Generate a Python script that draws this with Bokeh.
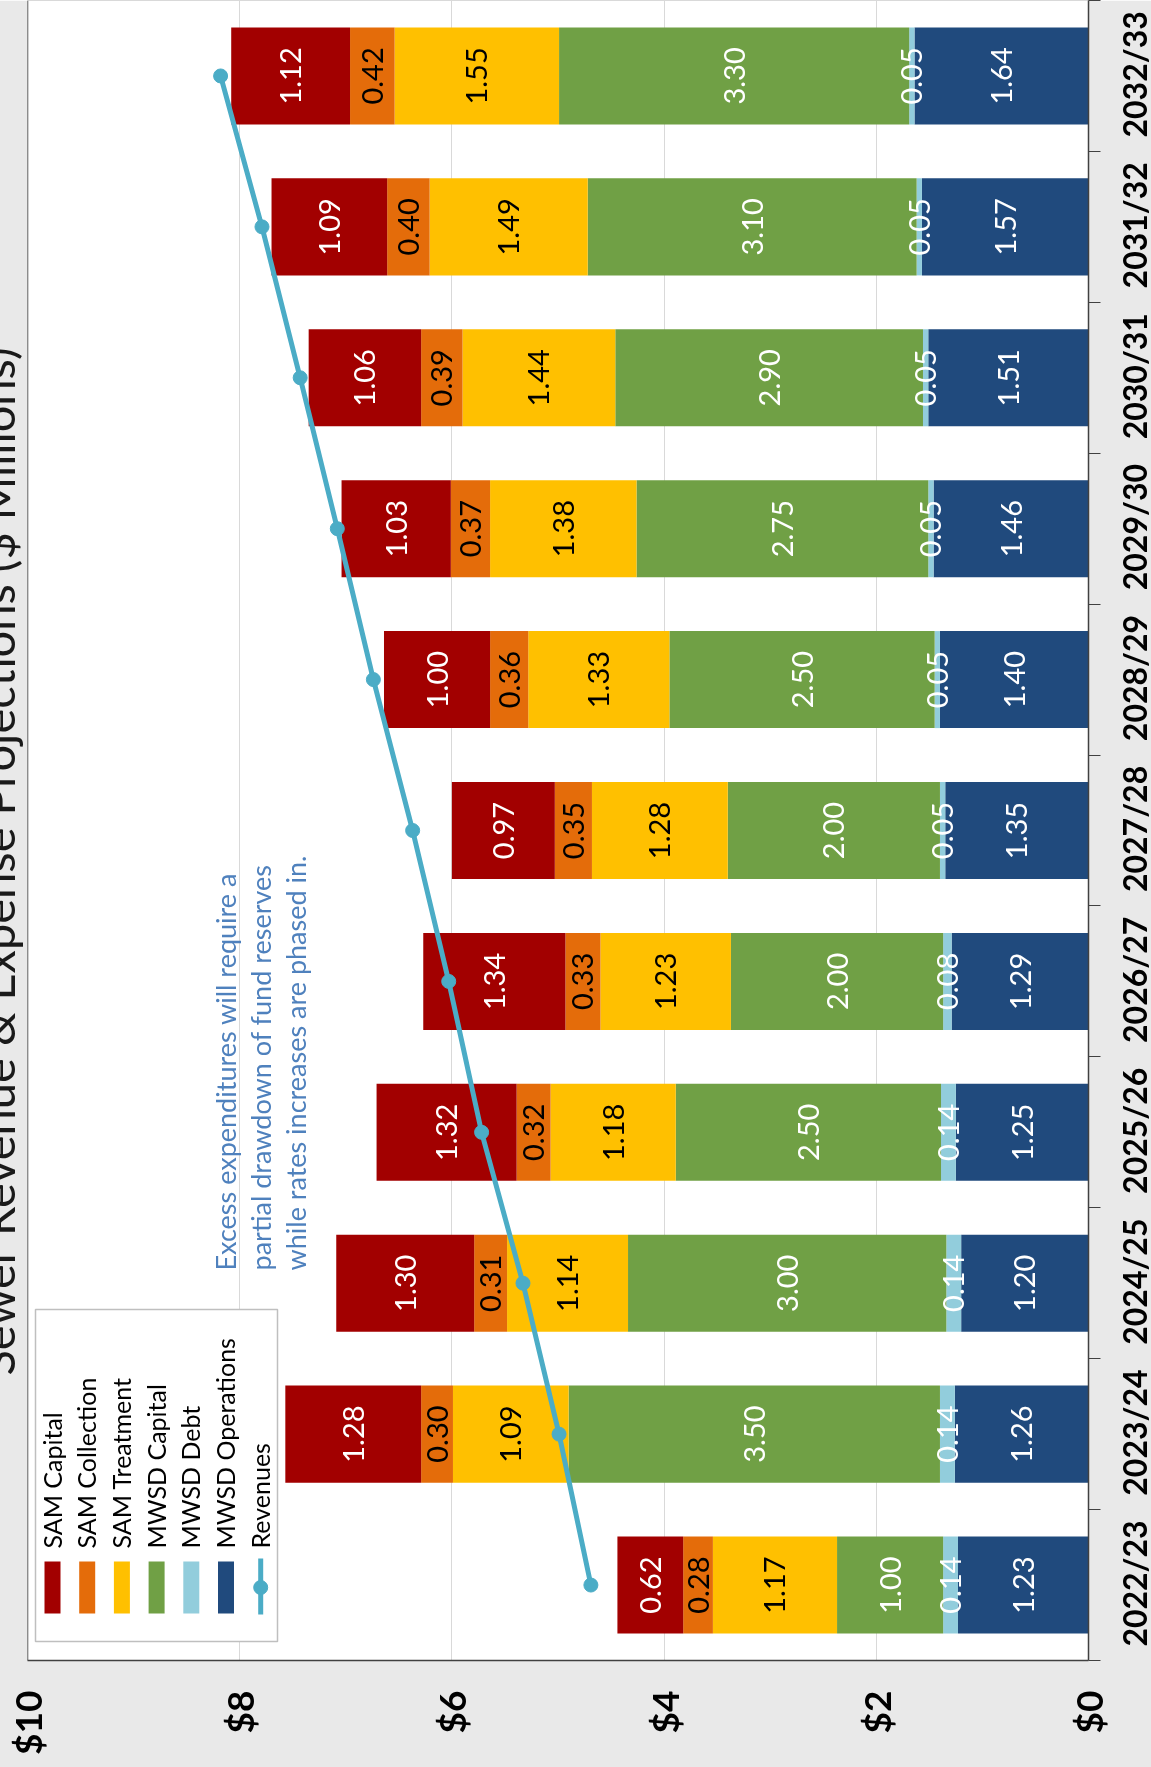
import math
import numpy as np
import pandas as pd
from bokeh.plotting import figure
from bokeh.models import Range1d, FixedTicker, NumeralTickFormatter, ColumnDataSource, Span
from bokeh.core.properties import value
from bokeh.embed import file_html
from bokeh.resources import INLINE

# ---------------- data ----------------
years = ["2022/23", "2023/24", "2024/25", "2025/26", "2026/27", "2027/28",
         "2028/29", "2029/30", "2030/31", "2031/32", "2032/33"]
mwsd_operations = [1.23, 1.26, 1.20, 1.25, 1.29, 1.35, 1.40, 1.46, 1.51, 1.57, 1.64]
mwsd_debt = [0.14, 0.14, 0.14, 0.14, 0.08, 0.05, 0.05, 0.05, 0.05, 0.05, 0.05]
mwsd_capital = [1.00, 3.50, 3.00, 2.50, 2.00, 2.00, 2.50, 2.75, 2.90, 3.10, 3.30]
sam_treatment = [1.17, 1.09, 1.14, 1.18, 1.23, 1.28, 1.33, 1.38, 1.44, 1.49, 1.55]
sam_collection = [0.28, 0.30, 0.31, 0.32, 0.33, 0.35, 0.36, 0.37, 0.39, 0.40, 0.42]
sam_capital = [0.62, 1.28, 1.30, 1.32, 1.34, 0.97, 1.00, 1.03, 1.06, 1.09, 1.12]
revenues = [4.69, 4.99, 5.33, 5.72, 6.03, 6.37, 6.74, 7.08, 7.43, 7.79, 8.18]
value_ticks = [0, 2, 4, 6, 8, 10]

series_names = ["MWSD Operations", "MWSD Debt", "MWSD Capital",
                "SAM Treatment", "SAM Collection", "SAM Capital"]
series_values = [mwsd_operations, mwsd_debt, mwsd_capital,
                 sam_treatment, sam_collection, sam_capital]
series_colors = ["#204A7D", "#92CDDC", "#70A045", "#FFC000", "#E46C0A", "#A20000"]
label_colors = ["white", "white", "white", "black", "black", "white"]
legend_order = ["SAM Capital", "SAM Collection", "SAM Treatment",
                "MWSD Capital", "MWSD Debt", "MWSD Operations"]
title_text = "Sewer Revenue & Expense Projections ($ Millions)"
note_lines = ["Excess expenditures will require a",
              "partial drawdown of fund reserves",
              "while rates increases are phased in."]

FONT = "Lato"
# ---------------- layout ----------------
S = 40                       # title band partly off the page's left edge (as in the reference)
R = 40                       # spare room right of the page edge for the axis panel
PAGE_W = 1151
W, H = PAGE_W + S + R, 1767
PL, PR, PT, PB = 27, 1088, 0, 1660    # frame on the page
XMAX = 10
NCAT = len(years)
K = 1000                     # category step in y units
LABEL_SHIFT = 408            # rotated axis labels start at their tick: shift so they centre


def dx(px):
    return XMAX * (PR - px) / (PR - PL)


def dy(py):
    return K * (NCAT * (PB - py) / (PB - PT) - 0.5)


def dw(px):
    return XMAX * px / (PR - PL)


def dh(px):
    return K * NCAT * px / (PB - PT)


p = figure(width=W, height=H, output_backend="svg", toolbar_location=None,
           x_range=Range1d(XMAX, 0), y_range=Range1d(-K / 2, K * (NCAT - 0.5)),
           y_axis_location="right", title=title_text, title_location="left",
           min_border_left=PL + S, min_border_right=PAGE_W - PR + R,
           min_border_top=PT, min_border_bottom=H - PB)
p.styles = {"position": "fixed", "left": f"-{S}px", "top": "0px"}
p.background_fill_color = "white"
p.border_fill_color = "#E9E9E9"
p.outline_line_color = "#D9D9D9"

p.title.align = "left"
p.title.offset = PB - 1375
p.title.text_font = FONT
p.title.text_font_style = "normal"
p.title.text_font_size = "47px"
p.title.text_color = "#1A1A1A"
p.title.standoff = 5

ypos = [K * i for i in range(NCAT)]
data = {"y": ypos}
for n, v in zip(series_names, series_values):
    data[n] = v
source = ColumnDataSource(data)

p.hbar_stack(series_names, y="y", height=0.643 * K, color=series_colors,
             line_color=None, source=source)

# value labels
df = pd.DataFrame(data)
cum = np.zeros(NCAT)
for n, col in zip(series_names, label_colors):
    vals = df[n].to_numpy()
    mid = cum + vals / 2
    cum = cum + vals
    p.text(x=list(mid), y=ypos, text=[f"{v:.2f}" for v in vals], angle=math.pi / 2,
           text_align="center", text_baseline="middle", text_color=col,
           text_font=value(FONT), text_font_size="29px")

# revenue line
p.line(revenues, ypos, line_color="#4BACC6", line_width=5)
p.scatter(revenues, ypos, size=14, fill_color="#4BACC6", line_color="#4BACC6")

# value axis (bottom)
p.xaxis.ticker = FixedTicker(ticks=value_ticks)
p.xaxis.formatter = NumeralTickFormatter(format="$0")
p.xaxis.major_label_orientation = math.pi / 2
p.xaxis.major_label_text_font = FONT
p.xaxis.major_label_text_font_style = "bold"
p.xaxis.major_label_text_font_size = "37px"
p.xaxis.major_label_text_color = "black"
p.xaxis.major_tick_out = 0
p.xaxis.major_tick_in = 0
p.xaxis.minor_tick_out = 0
p.xaxis.minor_tick_in = 0
p.xaxis.axis_line_color = "#404040"
p.xaxis.axis_line_width = 1.5
p.xaxis.major_label_standoff = 30

# category axis (right): boundary ticks, rotated labels
label_ticks = [y - LABEL_SHIFT for y in ypos]
p.yaxis.ticker = FixedTicker(ticks=label_ticks,
                             minor_ticks=[K * i - K // 2 for i in range(NCAT + 1)])
p.yaxis.major_label_overrides = {t: yr for t, yr in zip(label_ticks, years)}
p.yaxis.major_label_orientation = math.pi / 2
p.yaxis.major_label_text_font = FONT
p.yaxis.major_label_text_font_style = "bold"
p.yaxis.major_label_text_font_size = "32px"
p.yaxis.major_label_text_color = "black"
p.yaxis.major_label_standoff = 34
p.yaxis.major_tick_out = 0
p.yaxis.major_tick_in = 0
p.yaxis.minor_tick_out = 12
p.yaxis.minor_tick_in = 0
p.yaxis.minor_tick_line_color = "#404040"
p.yaxis.axis_line_color = "#404040"
p.yaxis.axis_line_width = 1.5

p.xgrid.ticker = FixedTicker(ticks=value_ticks[1:-1])
p.xgrid.grid_line_color = "#D9D9D9"
p.ygrid.grid_line_color = None

p.add_layout(Span(location=XMAX, dimension="height", line_color="#404040", line_width=1.5))

# legend (drawn manually, rotated)
p.rect(x=[dx(156)], y=[dy(1475)], width=dw(242), height=dh(332),
       fill_color="white", line_color="#BFBFBF", line_width=1.5)
step = 34.7
color_of = dict(zip(series_names, series_colors))
for i, name in enumerate(legend_order):
    p.rect(x=[dx(52 + step * i)], y=[dy(1587)], width=dw(16), height=dh(52),
           fill_color=color_of[name], line_color=None)
rx = dx(52 + step * 6)
p.line([rx, rx], [dy(1558), dy(1614)], line_color="#4BACC6", line_width=5)
p.scatter([rx], [dy(1587)], size=14, fill_color="#4BACC6", line_color="#4BACC6")
leg_names = legend_order + ["Revenues"]
p.text(x=[dx(51 + step * i) for i in range(7)], y=[dy(1548)] * 7, text=leg_names,
       angle=math.pi / 2, text_align="left", text_baseline="middle",
       text_color="black", text_font=value(FONT), text_font_size="25px")

# note text
p.text(x=[dx(225), dx(260), dx(295)], y=[dy(1270)] * 3, text=note_lines,
       angle=math.pi / 2, text_align="left", text_baseline="middle",
       text_color="#4F81BD", text_font=value(FONT), text_font_size="27px")

open("out.html", "w").write(file_html(p, INLINE))
